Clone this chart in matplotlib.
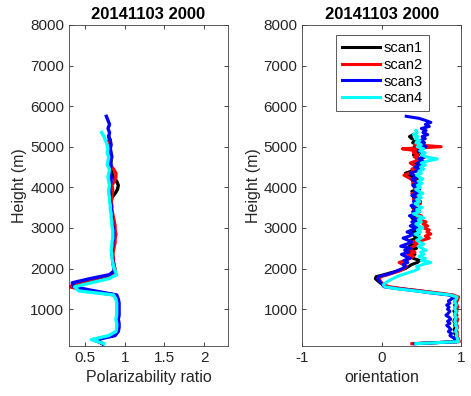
import numpy as np
import matplotlib
matplotlib.use("Agg")
import matplotlib.pyplot as plt

plt.rcParams['font.family'] = ['Liberation Sans', 'DejaVu Sans']
plt.rcParams['axes.unicode_minus'] = False

title = "20141103 2000"
labels = ["scan1", "scan2", "scan3", "scan4"]
colors = ["black", "red", "blue", "cyan"]

# left panel: heights every 100 m from 150 m
h_left = np.arange(150, 5800, 100)
pol_scan1 = [0.72, 0.62, 0.86, 0.91, 0.92, 0.92, 0.91, 0.92, 0.92, 0.92,
             0.92, 0.91, 0.88, 0.58, 0.33, 0.42, 0.64, 0.84, 0.88, 0.87,
             0.86, 0.85, 0.85, 0.84, 0.85, 0.86, 0.87, 0.87, 0.87, 0.86,
             0.86, 0.85, 0.84, 0.83, 0.83, 0.83, 0.84, 0.88, 0.91, 0.92,
             0.90, 0.86, 0.84, 0.83, 0.82, 0.83, 0.82, 0.81, 0.82, 0.81,
             0.82, 0.80]
pol_scan2 = [0.73, 0.60, 0.85, 0.90, 0.91, 0.91, 0.90, 0.91, 0.91, 0.91,
             0.91, 0.90, 0.87, 0.52, 0.31, 0.40, 0.62, 0.83, 0.88, 0.87,
             0.86, 0.86, 0.85, 0.86, 0.87, 0.88, 0.88, 0.89, 0.88, 0.88,
             0.87, 0.86, 0.85, 0.84, 0.84, 0.83, 0.84, 0.84, 0.85, 0.84,
             0.87, 0.89, 0.89, 0.86, 0.82, 0.81, 0.80, 0.80, 0.81, 0.79,
             0.80]
pol_scan3 = [0.72, 0.65, 0.88, 0.92, 0.93, 0.93, 0.92, 0.93, 0.93, 0.93,
             0.93, 0.92, 0.90, 0.62, 0.36, 0.34, 0.56, 0.81, 0.87, 0.86,
             0.85, 0.85, 0.84, 0.84, 0.85, 0.85, 0.86, 0.86, 0.86, 0.85,
             0.85, 0.84, 0.84, 0.83, 0.83, 0.82, 0.82, 0.82, 0.81, 0.82,
             0.83, 0.83, 0.82, 0.82, 0.83, 0.82, 0.84, 0.83, 0.82, 0.83,
             0.82, 0.80, 0.81, 0.79, 0.81, 0.79, 0.77]
pol_scan4 = [0.74, 0.58, 0.80, 0.89, 0.90, 0.90, 0.89, 0.90, 0.90, 0.90,
             0.90, 0.89, 0.86, 0.42, 0.37, 0.58, 0.80, 0.90, 0.88, 0.86,
             0.85, 0.84, 0.84, 0.83, 0.84, 0.84, 0.85, 0.85, 0.85, 0.84,
             0.84, 0.83, 0.83, 0.82, 0.82, 0.81, 0.81, 0.80, 0.80, 0.81,
             0.80, 0.79, 0.80, 0.81, 0.78, 0.79, 0.80, 0.78, 0.79, 0.78,
             0.76, 0.74, 0.71]

# right panel: heights every 50 m from 150 m
h_right = np.arange(150, 5800, 50)
ori_scan1 = [0.40, 0.96, 0.95, 0.93, 0.94, 0.92, 0.93, 0.91, 0.93, 0.92,
             0.93, 0.91, 0.92, 0.94, 0.92, 0.93, 0.91, 0.92, 0.93, 0.92,
             0.93, 0.92, 0.93, 0.94, 0.88, 0.68, 0.48, 0.26, 0.07, 0.02,
             -0.02, -0.05, -0.08, -0.07, 0.03, 0.12, 0.22, 0.30, 0.34, 0.38,
             0.45, 0.48, 0.40, 0.36, 0.42, 0.33, 0.38, 0.44, 0.35, 0.40,
             0.43, 0.37, 0.45, 0.41, 0.47, 0.39, 0.44, 0.40, 0.46, 0.42,
             0.47, 0.41, 0.38, 0.45, 0.40, 0.48, 0.43, 0.39, 0.46, 0.42,
             0.49, 0.43, 0.40, 0.47, 0.42, 0.38, 0.45, 0.41, 0.47, 0.43,
             0.39, 0.45, 0.40, 0.33, 0.30, 0.38, 0.42, 0.45, 0.41, 0.47,
             0.43, 0.49, 0.44, 0.40, 0.46, 0.42, 0.48, 0.41, 0.45, 0.39,
             0.44, 0.38, 0.35, 0.40]
ori_scan2 = [0.38, 0.98, 0.97, 0.96, 0.95, 0.96, 0.95, 0.94, 0.96, 0.95,
             0.94, 0.95, 0.96, 0.94, 0.95, 0.93, 0.95, 0.94, 0.96, 0.95,
             0.94, 0.95, 0.96, 0.97, 0.90, 0.70, 0.50, 0.28, 0.10, 0.03,
             0.00, -0.02, -0.03, -0.01, 0.08, 0.16, 0.24, 0.28, 0.31, 0.27,
             0.22, 0.30, 0.35, 0.40, 0.33, 0.42, 0.37, 0.34, 0.41, 0.45,
             0.38, 0.52, 0.60, 0.55, 0.62, 0.57, 0.60, 0.53, 0.58, 0.52,
             0.56, 0.48, 0.45, 0.50, 0.42, 0.47, 0.40, 0.46, 0.43, 0.49,
             0.44, 0.40, 0.47, 0.42, 0.38, 0.45, 0.41, 0.48, 0.43, 0.39,
             0.44, 0.37, 0.33, 0.28, 0.35, 0.42, 0.38, 0.45, 0.40, 0.36,
             0.43, 0.48, 0.41, 0.46, 0.40, 0.44, 0.26, 0.75, 0.42]
ori_scan3 = [0.42, 0.95, 0.93, 0.90, 0.86, 0.88, 0.84, 0.87, 0.85, 0.82,
             0.86, 0.83, 0.87, 0.85, 0.81, 0.84, 0.86, 0.83, 0.85, 0.82,
             0.86, 0.84, 0.88, 0.91, 0.84, 0.62, 0.44, 0.22, 0.03, 0.01,
             -0.01, -0.03, -0.05, -0.04, 0.06, 0.14, 0.20, 0.26, 0.30, 0.27,
             0.33, 0.28, 0.36, 0.30, 0.25, 0.34, 0.29, 0.37, 0.24, 0.31,
             0.38, 0.33, 0.27, 0.35, 0.40, 0.32, 0.38, 0.44, 0.36, 0.42,
             0.38, 0.45, 0.40, 0.35, 0.43, 0.39, 0.46, 0.41, 0.37, 0.44,
             0.40, 0.47, 0.42, 0.38, 0.45, 0.41, 0.48, 0.43, 0.39, 0.46,
             0.42, 0.38, 0.45, 0.40, 0.36, 0.44, 0.48, 0.42, 0.50, 0.45,
             0.52, 0.47, 0.55, 0.49, 0.53, 0.46, 0.51, 0.56, 0.50, 0.54,
             0.48, 0.55, 0.51, 0.58, 0.52, 0.56, 0.50, 0.60, 0.55, 0.62,
             0.55, 0.47, 0.31]
ori_scan4 = [0.43, 0.97, 0.96, 0.95, 0.94, 0.95, 0.93, 0.94, 0.95, 0.93,
             0.94, 0.92, 0.93, 0.94, 0.92, 0.93, 0.94, 0.92, 0.93, 0.94,
             0.93, 0.92, 0.94, 0.95, 0.86, 0.64, 0.42, 0.20, 0.04, 0.02,
             0.05, 0.09, 0.14, 0.19, 0.26, 0.34, 0.42, 0.47, 0.44, 0.52,
             0.62, 0.50, 0.55, 0.47, 0.53, 0.49, 0.56, 0.51, 0.46, 0.53,
             0.48, 0.44, 0.50, 0.47, 0.42, 0.49, 0.45, 0.52, 0.47, 0.43,
             0.50, 0.46, 0.53, 0.45, 0.40, 0.48, 0.44, 0.51, 0.46, 0.42,
             0.48, 0.44, 0.50, 0.46, 0.52, 0.47, 0.43, 0.49, 0.45, 0.51,
             0.46, 0.52, 0.48, 0.44, 0.50, 0.47, 0.53, 0.49, 0.55, 0.50,
             0.58, 0.70, 0.56, 0.50, 0.55, 0.48, 0.53, 0.45, 0.50, 0.43,
             0.48, 0.42, 0.46, 0.40, 0.45, 0.43]

pol = [pol_scan1, pol_scan2, pol_scan3, pol_scan4]
ori = [ori_scan1, ori_scan2, ori_scan3, ori_scan4]

fig = plt.figure(figsize=(4.71, 3.96), dpi=100)
ax1 = fig.add_axes([0.1465, 0.127, 0.3376, 0.810])
ax2 = fig.add_axes([0.6418, 0.127, 0.337, 0.810])

for vals, c, lab in zip(pol, colors, labels):
    ax1.plot(vals, h_left[:len(vals)], color=c, lw=2.4, label=lab)
for vals, c, lab in zip(ori, colors, labels):
    ax2.plot(vals, h_right[:len(vals)], color=c, lw=2.2, label=lab)

ax1.set_xlim(0.3, 2.3)
ax1.set_xticks([0.5, 1, 1.5, 2])
ax1.set_xticklabels(["0.5", "1", "1.5", "2"])
ax1.set_xlabel("Polarizability ratio", fontsize=11.5, color="#262626")

ax2.set_xlim(-1, 1)
ax2.set_xticks([-1, 0, 1])
ax2.set_xlabel("orientation", fontsize=11.5, color="#262626")

for ax in (ax1, ax2):
    ax.set_ylim(100, 8000)
    ax.set_yticks(range(1000, 9000, 1000))
    ax.set_ylabel("Height (m)", fontsize=11.5, color="#262626", labelpad=2)
    ax.set_title(title, fontsize=12, fontweight="bold", pad=4)
    ax.tick_params(direction="in", top=True, right=True, labelsize=11,
                   colors="#262626", length=3, width=0.6)
    for s in ax.spines.values():
        s.set_color("#404040")
        s.set_linewidth(0.6)

leg = ax2.legend(loc="upper center", bbox_to_anchor=(0.505, 0.969),
                 borderaxespad=0, fontsize=10.5, handlelength=2.6,
                 labelspacing=0.2, handletextpad=0.3, borderpad=0.4,
                 fancybox=False, edgecolor="#404040", framealpha=1)
leg.get_frame().set_linewidth(0.6)

fig.savefig("out.png", dpi=100)
